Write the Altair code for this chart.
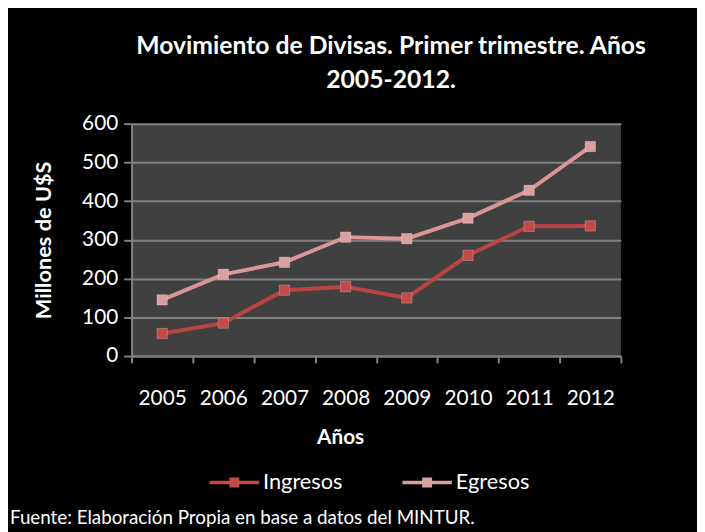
import altair as alt
import pandas as pd

years = ["2005", "2006", "2007", "2008", "2009", "2010", "2011", "2012"]
ingresos = [58, 85, 170, 179, 150, 260, 335, 336]
egresos = [145, 211, 242, 307, 303, 356, 428, 541]
series_names = ["Ingresos", "Egresos"]
line_colors = ["#B94543", "#D99694"]
marker_colors = ["#C24A47", "#D9A0A0"]
footnote = "Fuente: Elaboración Propia en base a datos del MINTUR."

rows = []
for name, vals in zip(series_names, [ingresos, egresos]):
    for y, v in zip(years, vals):
        rows.append({"Año": y, "Valor": v, "Serie": name})
df = pd.DataFrame(rows)

FONT = "Lato"

x_enc = alt.X(
    "Año:N",
    scale=alt.Scale(type="band", paddingInner=0, paddingOuter=0),
    axis=alt.Axis(
        title="Años",
        tickBand="extent",
        labelAngle=0,
        labelFontSize=21,
        labelPadding=25,
        labelColor="white",
        labelFont=FONT,
        titleFont=FONT,
        titleFontSize=21,
        titleFontWeight="bold",
        titleColor="white",
        titleX=211,
        titleY=83,
        titleBaseline="middle",
        domainColor="#808080",
        domainWidth=2,
        tickColor="#808080",
        tickWidth=2,
        tickSize=7,
        grid=False,
    ),
)
y_enc = alt.Y(
    "Valor:Q",
    scale=alt.Scale(domain=[0, 600], nice=False),
    axis=alt.Axis(
        title="Millones de U$S",
        values=[0, 100, 200, 300, 400, 500, 600],
        labelFontSize=21,
        labelColor="white",
        labelFont=FONT,
        labelPadding=6,
        titleFont=FONT,
        titleFontSize=22,
        titleFontWeight="bold",
        titleColor="white",
        titlePadding=26,
        domainColor="#808080",
        domainWidth=2,
        tickColor="#808080",
        tickWidth=2,
        tickSize=8,
        grid=True,
        gridColor="#808080",
        gridWidth=2,
    ),
)

lines = alt.Chart(df).mark_line(strokeWidth=4).encode(
    x=x_enc, y=y_enc,
    color=alt.Color("Serie:N", scale=alt.Scale(domain=series_names, range=line_colors), legend=None),
)
points = alt.Chart(df).mark_point(
    shape="square", filled=True, size=110, opacity=1,
    stroke="#FFFFFF", strokeOpacity=0.25, strokeWidth=1,
).encode(
    x=x_enc, y=y_enc,
    color=alt.Color(
        "Serie:N",
        scale=alt.Scale(domain=series_names, range=marker_colors),
        sort=series_names,
        legend=alt.Legend(
            title=None,
            orient="none",
            direction="horizontal",
            legendX=79,
            legendY=338,
            symbolType="M-1,-0.07H1V0.07H-1Z M-0.2,-0.2H0.2V0.2H-0.2Z",
            symbolSize=2500,
            symbolStrokeWidth=0,
            symbolOpacity=1,
            labelFontSize=22,
            labelColor="white",
            labelFont=FONT,
            labelOffset=4,
            columnPadding=60,
        ),
    ),
)
note = alt.Chart(pd.DataFrame({"t": [footnote]})).mark_text(
    align="left", baseline="middle", fontSize=19, color="white", font=FONT
).encode(text="t:N", x=alt.value(-123), y=alt.value(399))

chart = alt.layer(lines, points, note).resolve_scale(color="independent").properties(
    width=495,
    height=235,
    autosize=alt.AutoSizeParams(type="none"),
    padding={"left": 125, "top": 114, "right": 77, "bottom": 175},
    background="black",
    title=alt.TitleParams(
        text=["Movimiento de Divisas. Primer trimestre. Años", "2005-2012."],
        fontSize=25,
        font=FONT,
        fontWeight="bold",
        color="white",
        anchor="middle",
        dx=15,
        offset=20,
        lineHeight=35,
    ),
).configure_view(fill="#404040", stroke=None)

chart.save("out.html", embed_options={"renderer": "svg", "actions": False})
